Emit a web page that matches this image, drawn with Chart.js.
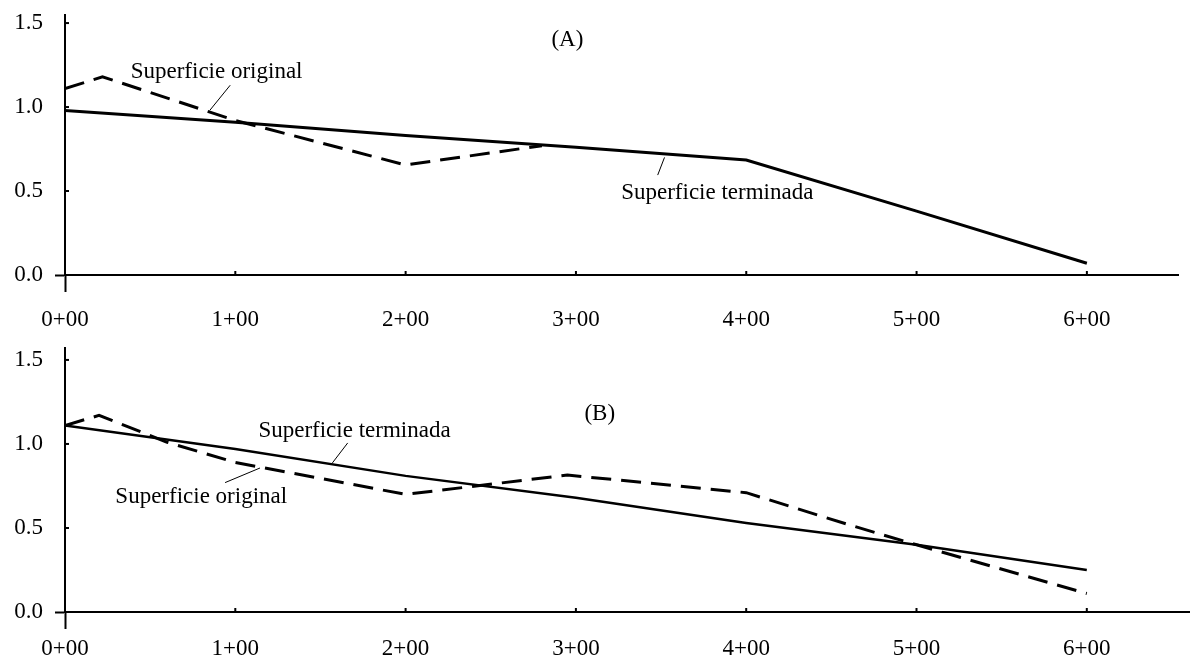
<!DOCTYPE html>
<html>
<head>
<meta charset="utf-8">
<script src="https://cdn.jsdelivr.net/npm/chart.js@4.4.1/dist/chart.umd.min.js"></script>
<style>
  html, body { margin: 0; background: #fff; }
  #wrapA { position: absolute; left: 0; top: 0; width: 1190px; height: 335px; }
  #wrapB { position: absolute; left: 0; top: 335px; width: 1190px; height: 333px; }
</style>
</head>
<body>
<div id="wrapA"><canvas id="chartA"></canvas></div>
<div id="wrapB"><canvas id="chartB"></canvas></div>
<script>
// stations in hundreds of metres, elevations
const xTickLabels = ['0+00', '1+00', '2+00', '3+00', '4+00', '5+00', '6+00'];

// (A)
const stationsA_orig = [0, 0.22, 1, 2, 2.8];
const elevA_orig     = [1.11, 1.18, 0.92, 0.655, 0.77];
const stationsA_fin  = [0, 1, 2, 3, 4, 5, 6];
const elevA_fin      = [0.98, 0.91, 0.83, 0.76, 0.685, 0.38, 0.07];

// (B)
const stationsB_orig = [0, 0.2, 0.6, 1, 2, 2.95, 4, 4.6, 5, 6];
const elevB_orig     = [1.11, 1.17, 1.01, 0.89, 0.70, 0.815, 0.71, 0.52, 0.40, 0.11];
const stationsB_fin  = [0, 1, 2, 3, 4, 5, 6];
const elevB_fin      = [1.11, 0.97, 0.81, 0.68, 0.53, 0.40, 0.25];

// callout labels, placed in data units
const notesA = [
  { text: '(A)', x: 2.95, y: 1.40 },
  { text: 'Superficie original', x: 0.89, y: 1.21, from: [0.97, 1.13], to: [0.85, 0.98] },
  { text: 'Superficie terminada', x: 3.83, y: 0.49, from: [3.52, 0.70], to: [3.48, 0.595] }
];
const notesB = [
  { text: '(B)', x: 3.14, y: 1.18 },
  { text: 'Superficie terminada', x: 1.70, y: 1.08, from: [1.66, 1.006], to: [1.57, 0.887] },
  { text: 'Superficie original', x: 0.80, y: 0.685, from: [0.94, 0.77], to: [1.145, 0.857] }
];

Chart.defaults.font.family = '"Liberation Serif", "Times New Roman", serif';
Chart.defaults.font.size = 23;
Chart.defaults.color = '#000';

const toPoints = (xs, ys) => xs.map((x, i) => ({ x, y: ys[i] }));

// small inward tick marks + callouts
const decorations = {
  id: 'decorations',
  afterDraw(chart, args, opts) {
    const { ctx, chartArea, scales: { x, y } } = chart;
    ctx.save();
    ctx.strokeStyle = '#000';
    ctx.lineWidth = 2;
    x.ticks.forEach(t => {
      if (t.value === 0) return;
      const px = x.getPixelForValue(t.value);
      ctx.beginPath(); ctx.moveTo(px, chartArea.bottom); ctx.lineTo(px, chartArea.bottom - 4); ctx.stroke();
    });
    y.ticks.forEach(t => {
      if (t.value === 0) return;
      const py = y.getPixelForValue(t.value);
      ctx.beginPath(); ctx.moveTo(chartArea.left, py); ctx.lineTo(chartArea.left + 4, py); ctx.stroke();
    });

    ctx.font = '23px "Liberation Serif", serif';
    ctx.fillStyle = '#000';
    ctx.textAlign = 'center';
    ctx.textBaseline = 'middle';
    ctx.lineWidth = 1;
    (opts.notes || []).forEach(n => {
      ctx.fillText(n.text, x.getPixelForValue(n.x), y.getPixelForValue(n.y));
      if (n.from) {
        ctx.beginPath();
        ctx.moveTo(x.getPixelForValue(n.from[0]), y.getPixelForValue(n.from[1]));
        ctx.lineTo(x.getPixelForValue(n.to[0]), y.getPixelForValue(n.to[1]));
        ctx.stroke();
      }
    });
    ctx.restore();
  }
};

function makeChart(id, orig, fin, cfg) {
  return new Chart(document.getElementById(id), {
    type: 'line',
    data: {
      datasets: [
        {
          label: 'Superficie original',
          data: orig,
          borderColor: '#000',
          borderWidth: 3,
          borderDash: [20, 10],
          pointRadius: 0,
          tension: 0
        },
        {
          label: 'Superficie terminada',
          data: fin,
          borderColor: '#000',
          borderWidth: cfg.finWidth,
          pointRadius: 0,
          tension: 0
        }
      ]
    },
    options: {
      responsive: true,
      maintainAspectRatio: false,
      animation: false,
      layout: { padding: { top: cfg.top, right: cfg.right, left: 0, bottom: 0 } },
      plugins: {
        legend: { display: false },
        tooltip: { enabled: false },
        decorations: { notes: cfg.notes }
      },
      scales: {
        x: {
          type: 'linear',
          min: 0,
          max: cfg.xMax,
          border: { color: '#000', width: 2 },
          grid: {
            drawOnChartArea: false,
            tickLength: 17,
            tickWidth: 2,
            tickColor: c => (c.tick && c.tick.value === 0 ? '#000' : 'rgba(0,0,0,0)')
          },
          ticks: {
            stepSize: 1,
            includeBounds: false,
            maxRotation: 0,
            padding: cfg.xPad,
            callback: v => xTickLabels[v]
          },
          afterFit: s => { s.height = cfg.xHeight; s.paddingLeft = 0; s.paddingRight = 0; }
        },
        y: {
          min: 0,
          max: cfg.yMax,
          border: { color: '#000', width: 2 },
          grid: {
            drawOnChartArea: false,
            tickLength: 10,
            tickWidth: 2,
            tickColor: c => (c.tick && c.tick.value === 0 ? '#000' : 'rgba(0,0,0,0)')
          },
          ticks: {
            stepSize: 0.5,
            includeBounds: false,
            padding: 12,
            callback: v => v.toFixed(1)
          },
          afterFit: s => { s.width = 65; s.paddingTop = 0; s.paddingBottom = 0; }
        }
      }
    },
    plugins: [decorations]
  });
}

makeChart('chartA', toPoints(stationsA_orig, elevA_orig), toPoints(stationsA_fin, elevA_fin),
  { top: 15, right: 12, xMax: 6.535, yMax: 1.548, xPad: 14, xHeight: 60, finWidth: 3, notes: notesA });

makeChart('chartB', toPoints(stationsB_orig, elevB_orig), toPoints(stationsB_fin, elevB_fin),
  { top: 13, right: 0, xMax: 6.606, yMax: 1.571, xPad: 6, xHeight: 56, finWidth: 2.5, notes: notesB });
</script>
</body>
</html>
